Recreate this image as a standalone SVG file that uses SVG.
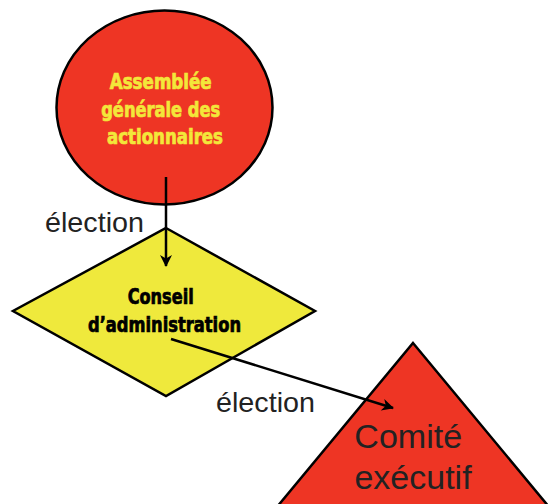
<svg xmlns="http://www.w3.org/2000/svg" width="548" height="504" viewBox="0 0 548 504">
  <style>
    .shape { stroke: #000; stroke-width: 2.5; }
    .red { fill: #EE3524; }
    .yellow { fill: #EFE93C; }
    .bold { font-family: "DejaVu Sans Condensed", "DejaVu Sans", sans-serif; font-weight: bold; font-stretch: condensed; font-size: 21px; text-anchor: middle; stroke-width: 0.7; }
    .light { font-family: "Liberation Sans", Arial, sans-serif; font-weight: normal; fill: #222; }
    .edge { stroke: #000; stroke-width: 2.5; fill: none; marker-end: url(#arrow); }
  </style>
  <defs>
    <!-- barbed filled arrowhead -->
    <marker id="arrow" viewBox="0 0 14 14" refX="12" refY="7" markerWidth="14" markerHeight="14" orient="auto" markerUnits="userSpaceOnUse">
      <path d="M1,1 L13,7 L1,13 L4.5,7 Z" fill="#000"/>
    </marker>
  </defs>
  <rect width="548" height="504" fill="#fff"/>

  <g id="assemblee">
    <ellipse class="shape red" cx="164.5" cy="107.5" rx="108" ry="97"/>
    <text class="bold" fill="#F3E73A" stroke="#F3E73A">
      <tspan x="164" y="89" textLength="102" lengthAdjust="spacingAndGlyphs">Assemblée</tspan>
      <tspan x="164" y="117" textLength="119" lengthAdjust="spacingAndGlyphs">générale des</tspan>
      <tspan x="165" y="144" textLength="116" lengthAdjust="spacingAndGlyphs">actionnaires</tspan>
    </text>
  </g>

  <g id="conseil">
    <polygon class="shape yellow" points="166,228 315,311 166,396 13,311"/>
    <text class="bold" fill="#000" stroke="#000">
      <tspan x="164" y="304" textLength="66" lengthAdjust="spacingAndGlyphs">Conseil</tspan>
      <tspan x="164.5" y="332" textLength="153" lengthAdjust="spacingAndGlyphs">d’administration</tspan>
    </text>
  </g>

  <g id="comite">
    <polygon class="shape red" points="413,343 564,525 262,525"/>
    <text class="light" font-size="34" text-anchor="middle">
      <tspan x="413" y="448" textLength="108" lengthAdjust="spacingAndGlyphs">Comité</tspan>
      <tspan x="413" y="489">exécutif</tspan>
    </text>
  </g>

  <g id="connectors">
    <line class="edge" x1="166" y1="177" x2="166" y2="266"/>
    <line class="edge" x1="171" y1="339" x2="393" y2="408"/>
    <text class="light" font-size="28" x="45" y="232" textLength="99" lengthAdjust="spacingAndGlyphs">élection</text>
    <text class="light" font-size="28" x="216" y="412" textLength="99" lengthAdjust="spacingAndGlyphs">élection</text>
  </g>
</svg>
